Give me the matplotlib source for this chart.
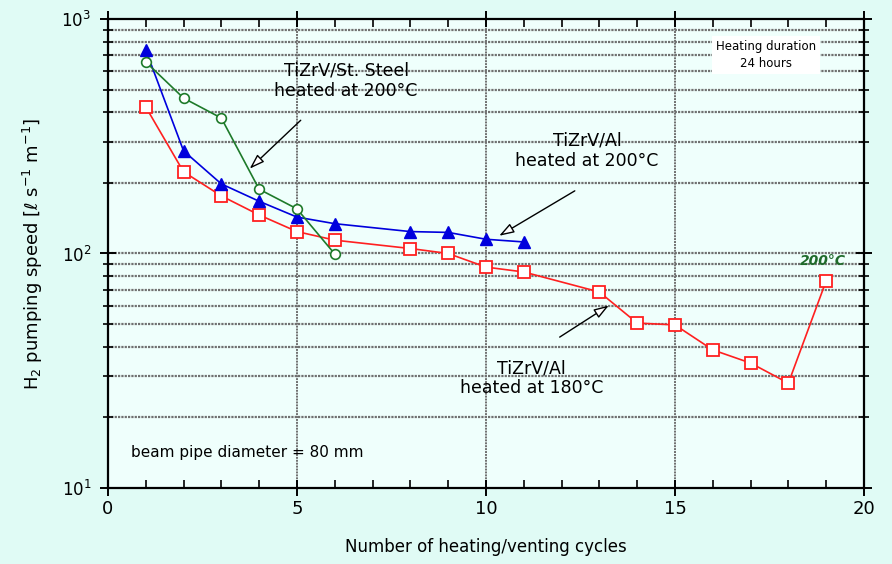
import matplotlib
matplotlib.use("Agg")
import matplotlib.pyplot as plt
from matplotlib.ticker import LogLocator, NullFormatter, FixedLocator

# Pumping speed vs. number of heating/venting cycles
cycles_al180 = [1, 2, 3, 4, 5, 6, 8, 9, 10, 11, 13, 14, 15, 16, 17, 18, 19]
speed_al180 = [422, 223, 176, 146, 124, 114, 105, 100, 87.5, 83.4, 68.5, 50.5, 49.6, 38.8, 34.1, 28.0, 76.5]

cycles_al200 = [1, 2, 3, 4, 5, 6, 8, 9, 10, 11]
speed_al200 = [738, 274, 198, 167, 143, 134, 124, 123, 115, 112]

cycles_ss200 = [1, 2, 3, 4, 5, 6]
speed_ss200 = [656, 460, 378, 188, 155, 99.5]

x_ticks = [0, 5, 10, 15, 20]
x_tick_labels = ["0", "5", "10", "15", "20"]

fig = plt.figure(figsize=(8.92, 5.64), dpi=100, facecolor="#e0fbf5")
ax = fig.add_axes([0.121, 0.1348, 0.8476, 0.8315])
ax.set_facecolor("#effffc")

ax.set_yscale("log")
ax.set_xlim(0, 20)
ax.set_ylim(10, 1000)

# grid: horizontal at every log minor/major step, vertical at 5, 10, 15
for dec in (10, 100):
    for m in range(1, 10):
        v = dec * m
        if v in (10, 1000):
            continue
        ax.axhline(v, color="#707070", lw=1.6, ls=(0, (1.0, 0.5)), zorder=1)
for xv in (5, 10, 15):
    ax.axvline(xv, color="#707070", lw=1.4, ls=(0, (1.0, 0.5)), zorder=1)

ax.plot(cycles_al180, speed_al180, color="#ff2020", lw=1.2, marker="s", ms=8,
        mfc="white", mec="#ff2020", mew=1.3, zorder=4)
ax.plot(cycles_al200, speed_al200, color="#0000dd", lw=1.2, marker="^", ms=8,
        mfc="#0000dd", mec="#0000dd", zorder=5)
ax.plot(cycles_ss200, speed_ss200, color="#1e7a2a", lw=1.2, marker="o", ms=7,
        mfc="white", mec="#1e7a2a", mew=1.2, zorder=5)

# axes styling
for sp in ax.spines.values():
    sp.set_linewidth(1.6)
    sp.set_color("black")
ax.xaxis.set_major_locator(FixedLocator(x_ticks))
ax.set_xticklabels(x_tick_labels)
ax.xaxis.set_minor_locator(FixedLocator(range(0, 21)))
ax.yaxis.set_major_locator(LogLocator(base=10))
ax.yaxis.set_minor_locator(LogLocator(base=10, subs=range(2, 10)))
ax.yaxis.set_minor_formatter(NullFormatter())
ax.tick_params(which="major", direction="inout", length=12, width=1.4,
               top=True, right=True, labelsize=12, pad=6)
ax.tick_params(which="minor", direction="inout", length=7, width=1.2,
               top=True, right=True)
ax.tick_params(axis="x", which="minor", direction="in", length=6)
ax.tick_params(axis="x", labelsize=13, pad=3)

ax.set_xlabel("Number of heating/venting cycles", fontsize=12, labelpad=14)
ax.set_ylabel(r"H$_2$ pumping speed [$\ell$ s$^{-1}$ m$^{-1}$]", fontsize=13, labelpad=12)

arrow = dict(arrowstyle="-|>,head_length=0.9,head_width=0.3", color="black",
             lw=1.0, fc="white", shrinkA=0, shrinkB=0)

ax.text(6.3, 544, "TiZrV/St. Steel\nheated at 200°C", ha="center", va="center",
        fontsize=12.5, linespacing=1.15)
ax.annotate("", xy=(3.75, 230), xytext=(5.1, 370), arrowprops=arrow)

ax.text(12.67, 274, "TiZrV/Al\nheated at 200°C", ha="center", va="center",
        fontsize=12.5, linespacing=1.15)
ax.annotate("", xy=(10.35, 119), xytext=(12.35, 185), arrowprops=arrow)

ax.text(11.2, 29.4, "TiZrV/Al\nheated at 180°C", ha="center", va="center",
        fontsize=12.5, linespacing=1.15)
ax.annotate("", xy=(13.25, 60), xytext=(11.95, 44), arrowprops=arrow)

ax.text(0.6, 14.1, "beam pipe diameter = 80 mm", ha="left", va="center", fontsize=11)

ax.text(17.4, 700, "Heating duration\n24 hours", ha="center", va="center",
        fontsize=8.5, linespacing=1.4,
        bbox=dict(boxstyle="square,pad=0.35", fc="white", ec="none"), zorder=6)

ax.text(18.9, 93, "200°C", ha="center", va="center", fontsize=10,
        color="#1e6a2a", fontweight="bold", fontstyle="italic")

fig.savefig("out.png", dpi=100, facecolor=fig.get_facecolor())
